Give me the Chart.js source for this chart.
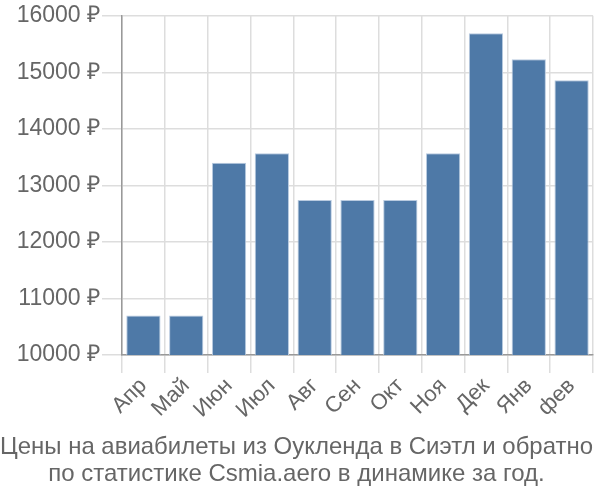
<!DOCTYPE html>
<html><head><meta charset="utf-8">
<script src="https://cdn.jsdelivr.net/npm/chart.js@4"></script>
<style>html,body{margin:0;padding:0;background:#fff}#w{width:600px;height:500px}</style>
</head><body><div id="w"><canvas id="c"></canvas></div>
<script>
const categories = ["Апр","Май","Июн","Июл","Авг","Сен","Окт","Ноя","Дек","Янв","фев"];
const prices = [10700,10700,13400,13570,12740,12740,12740,13570,15690,15230,14860];
const titleLines = ["Цены на авиабилеты из Оукленда в Сиэтл и обратно","по статистике Csmia.aero в динамике за год."];
const yMin = 10000, yMax = 16000, yStep = 1000;

new Chart(document.getElementById('c'), {
  type: 'bar',
  data: { labels: categories, datasets: [{ data: prices, backgroundColor: '#4e79a7', borderColor: '#b9cbe0', borderWidth: 1, barPercentage: 0.8, categoryPercentage: 1 }] },
  options: {
    responsive: true, maintainAspectRatio: false, animation: false,
    layout: { padding: { top: 0, right: 7, left: 0, bottom: 0 } },
    plugins: {
      legend: { display: false }, tooltip: { enabled: false },
      title: { display: true, position: 'bottom', text: titleLines, color: '#666', font: { family: 'Liberation Sans', size: 24, weight: 'normal', lineHeight: 1.125 }, padding: { top: 0, bottom: 12.5 } }
    },
    scales: {
      x: {
        afterFit: s => { s.height = 78.5; },
        grid: { color: '#ddd', lineWidth: 1.5, tickLength: 18, offset: true },
        border: { color: '#999', width: 1.5 },
        ticks: { color: '#666', font: { family: 'Liberation Sans', size: 22 }, minRotation: 45, maxRotation: 45, padding: 0 }
      },
      y: {
        min: yMin, max: yMax,
        afterFit: s => { s.width = 122; },
        grid: { color: '#ddd', lineWidth: 1.5, tickLength: 20 },
        border: { color: '#999', width: 1.5 },
        ticks: { stepSize: yStep, color: '#666', font: { family: 'Liberation Sans', size: 23 }, padding: 2, callback: v => v + ' ₽' }
      }
    }
  }
});
</script></body></html>
